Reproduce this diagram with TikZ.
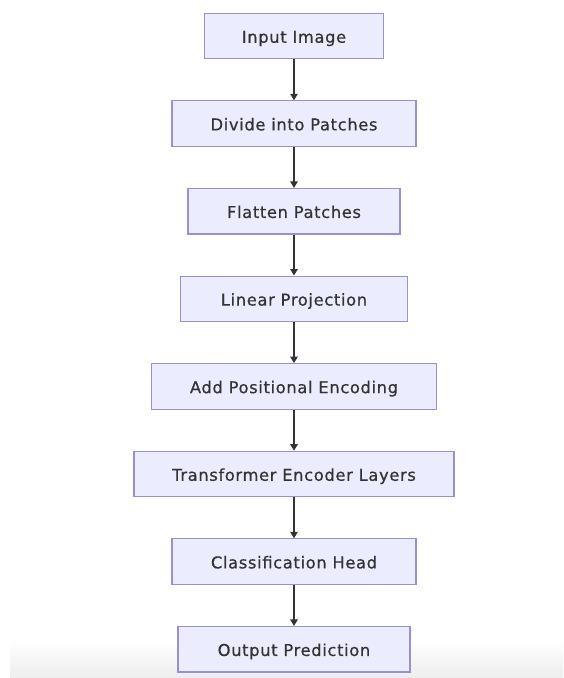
\documentclass[tikz,border=0pt]{standalone}
\usepackage{fontspec}
\setmainfont{DejaVu Sans}[LetterSpace=4, FakeBold=0.6]
\usetikzlibrary{arrows.meta}
\definecolor{boxfill}{HTML}{ECECFF}
\definecolor{boxline}{HTML}{9A8ED6}
\definecolor{txt}{HTML}{333333}
\definecolor{arr}{HTML}{333333}
\tikzset{
  flowbox/.style={draw=boxline, line width=1.1pt, fill=boxfill, text=txt,
    minimum height=45.5pt, inner sep=0pt, text height=13.5pt, text depth=0pt,
    font=\fontsize{16.3}{19}\selectfont},
  flowarrow/.style={draw=arr, line width=1.2pt, -{Triangle[length=6.5pt,width=7.5pt]}}
}
\begin{document}
\begin{tikzpicture}[x=1pt,y=-1pt]
\useasboundingbox (0,0) rectangle (563,678);
\fill[white] (0,0) rectangle (563,678);
\shade[top color=white, bottom color=black!7] (10,640) rectangle (563,678);
\node[flowbox, minimum width=179pt] (n1) at (294,36) {Input Image};
\node[flowbox, minimum width=244pt] (n2) at (294,123.6) {Divide into Patches};
\node[flowbox, minimum width=212pt] (n3) at (294,211.2) {Flatten Patches};
\node[flowbox, minimum width=227pt] (n4) at (294,298.8) {Linear Projection};
\node[flowbox, minimum width=285pt] (n5) at (294,386.4) {Add Positional Encoding};
\node[flowbox, minimum width=320pt] (n6) at (294,474) {Transformer Encoder Layers};
\node[flowbox, minimum width=244pt] (n7) at (294,561.6) {Classification Head};
\node[flowbox, minimum width=232pt] (n8) at (294,649.2) {Output Prediction};
\foreach \a/\b in {n1/n2,n2/n3,n3/n4,n4/n5,n5/n6,n6/n7,n7/n8}
  \draw[flowarrow] (\a.south) -- (\b.north);
\end{tikzpicture}
\end{document}
